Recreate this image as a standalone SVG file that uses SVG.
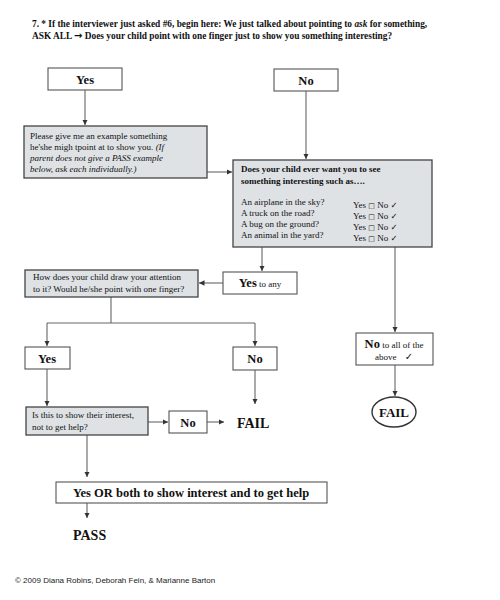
<svg xmlns="http://www.w3.org/2000/svg" width="500" height="600" viewBox="0 0 500 600">
<defs>
<marker id="ah" viewBox="0 0 6 6" refX="6" refY="3" markerWidth="5" markerHeight="5" orient="auto"><path d="M0,0 L6,3 L0,6 z" fill="#333"/></marker>
<style>
.bg{fill:#ffffff}
.box{fill:#ffffff;stroke:#555;stroke-width:1.1}
.sbox{fill:#dfe2e5;stroke:#444;stroke-width:1.3}
.ln{fill:none;stroke:#666;stroke-width:1.1;marker-end:url(#ah)}
.ln0{fill:none;stroke:#666;stroke-width:1.1}
.t{font-family:"Liberation Serif","Times New Roman",serif;fill:#111}
.b{font-weight:bold}
.hd{font-size:9.35px;font-weight:bold}
.sm{font-size:9px}
.lb{font-size:12.5px;font-weight:bold}
.big{font-size:14px;font-weight:bold}
.sym{font-family:"DejaVu Sans",sans-serif}
.cr{font-family:"Liberation Sans",Arial,sans-serif;font-size:8px;fill:#222}
</style>
</defs>
<rect class="bg" x="0" y="0" width="500" height="600"/>
<g id="header">
<text class="t hd" x="32" y="27">7. * If the interviewer just asked #6, begin here: We just talked about pointing to <tspan font-style="italic">ask</tspan> for something,</text>
<text class="t hd" x="32" y="39">ASK ALL <tspan class="sym" font-size="10">→</tspan> Does your child point with one finger just to show you something interesting?</text>
</g>
<g id="connectors">
<line class="ln" x1="85" y1="90" x2="85" y2="125"/>
<line class="ln" x1="306" y1="91" x2="306" y2="159"/>
<line class="ln" x1="207" y1="172" x2="232" y2="172"/>
<line class="ln" x1="262" y1="247" x2="262" y2="271"/>
<line class="ln" x1="223" y1="283" x2="199" y2="283"/>
<polyline class="ln0" points="111,297 111,323"/>
<line class="ln0" x1="47" y1="323" x2="255" y2="323"/>
<line class="ln" x1="47" y1="323" x2="47" y2="346"/>
<line class="ln" x1="255" y1="323" x2="255" y2="346"/>
<line class="ln" x1="47" y1="369" x2="47" y2="406"/>
<line class="ln" x1="255" y1="370" x2="255" y2="404"/>
<line class="ln" x1="148" y1="422" x2="168" y2="422"/>
<line class="ln" x1="207" y1="422" x2="224" y2="422"/>
<line class="ln" x1="87" y1="435" x2="87" y2="477"/>
<line class="ln" x1="87" y1="503" x2="87" y2="518"/>
<line class="ln" x1="395" y1="247" x2="395" y2="332"/>
<line class="ln" x1="395" y1="365" x2="395" y2="396"/>
</g>
<g id="yes1">
<rect class="box" x="48" y="68" width="74" height="22"/>
<text class="t lb" x="85" y="84" text-anchor="middle">Yes</text>
</g>
<g id="no1">
<rect class="box" x="274" y="69" width="64" height="22"/>
<text class="t lb" x="306" y="85" text-anchor="middle">No</text>
</g>
<g id="please">
<rect class="sbox" x="24" y="126" width="183" height="52"/>
<text class="t sm" x="30" y="139">Please give me an example something</text>
<text class="t sm" x="30" y="150">he'she migh tpoint at to show you. <tspan font-style="italic">(If</tspan></text>
<text class="t sm" x="30" y="161" font-style="italic">parent does not give a PASS example</text>
<text class="t sm" x="30" y="172" font-style="italic">below, ask each individually.)</text>
</g>
<g id="does">
<rect class="sbox" x="233" y="160" width="199" height="87"/>
<text class="t sm b" x="241" y="172">Does your child ever want you to see</text>
<text class="t sm b" x="241" y="184">something interesting such as….</text>
<text class="t sm" x="241" y="205">An airplane in the sky?</text>
<text class="t sm" x="241" y="216">A truck on the road?</text>
<text class="t sm" x="241" y="227">A bug on the ground?</text>
<text class="t sm" x="241" y="238">An animal in the yard?</text>
<text class="t sm" x="353" y="208">Yes <tspan class="sym" font-size="7">□</tspan> No <tspan class="sym" font-size="8.5">✓</tspan></text>
<text class="t sm" x="353" y="219">Yes <tspan class="sym" font-size="7">□</tspan> No <tspan class="sym" font-size="8.5">✓</tspan></text>
<text class="t sm" x="353" y="230">Yes <tspan class="sym" font-size="7">□</tspan> No <tspan class="sym" font-size="8.5">✓</tspan></text>
<text class="t sm" x="353" y="241">Yes <tspan class="sym" font-size="7">□</tspan> No <tspan class="sym" font-size="8.5">✓</tspan></text>
</g>
<g id="yesany">
<rect class="box" x="223" y="272" width="74" height="22"/>
<text class="t" x="260" y="287" text-anchor="middle"><tspan class="lb">Yes</tspan><tspan font-size="9"> to any</tspan></text>
</g>
<g id="how">
<rect class="sbox" x="25" y="270" width="173" height="27"/>
<text class="t sm" x="33" y="280">How does your child draw your attention</text>
<text class="t sm" x="33" y="292">to it? Would he/she point with one finger?</text>
</g>
<g id="yes2">
<rect class="box" x="25" y="347" width="45" height="22"/>
<text class="t lb" x="47" y="363" text-anchor="middle">Yes</text>
</g>
<g id="no2">
<rect class="box" x="233" y="347" width="44" height="23"/>
<text class="t lb" x="255" y="363" text-anchor="middle">No</text>
</g>
<g id="isthis">
<rect class="sbox" x="26" y="407" width="122" height="28"/>
<text class="t sm" x="32" y="418">Is this to show their interest,</text>
<text class="t sm" x="32" y="430">not to get help?</text>
</g>
<g id="no3">
<rect class="box" x="169" y="411" width="38" height="22"/>
<text class="t lb" x="188" y="427" text-anchor="middle">No</text>
</g>
<g id="fail1">
<text class="t big" x="237" y="428">FAIL</text>
</g>
<g id="yesor">
<rect class="box" x="56" y="482" width="271" height="21"/>
<text class="t b" x="191" y="497" font-size="12.5" text-anchor="middle">Yes OR both to show interest and to get help</text>
</g>
<g id="pass">
<text class="t big" x="73" y="540">PASS</text>
</g>
<g id="noall">
<rect class="box" x="356" y="333" width="77" height="32"/>
<text class="t" x="394" y="348" text-anchor="middle"><tspan class="lb">No</tspan><tspan font-size="9"> to all of the</tspan></text>
<text class="t" x="394" y="360" text-anchor="middle" font-size="9">above <tspan class="sym" font-size="10" dx="6">✓</tspan></text>
</g>
<g id="fail2">
<ellipse cx="394" cy="412" rx="22" ry="15" fill="none" stroke="#333" stroke-width="1.4"/>
<text class="t b" x="394" y="417" font-size="13" text-anchor="middle">FAIL</text>
</g>
<g id="copyright">
<text class="cr" x="15" y="583">©  2009 Diana Robins, Deborah Fein, &amp; Marianne Barton</text>
</g>
</svg>
